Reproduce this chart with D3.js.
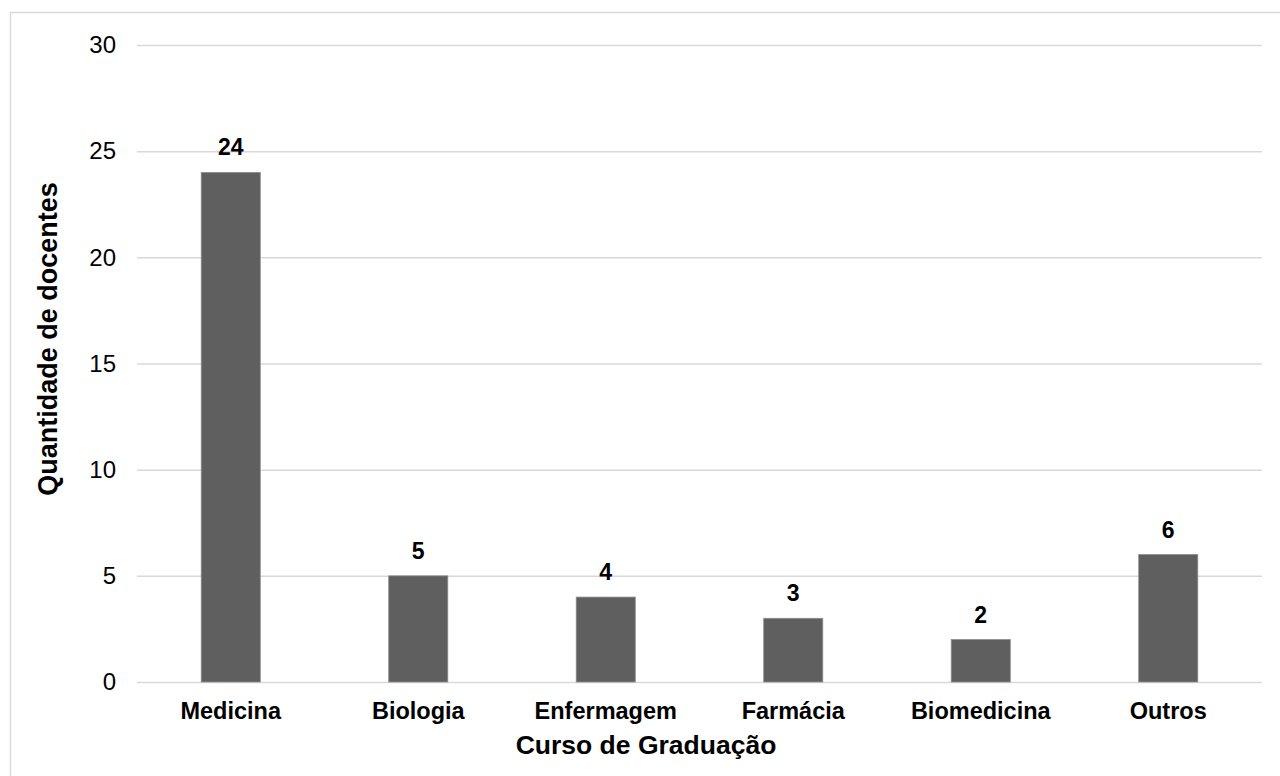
<!DOCTYPE html>
<html>
<head>
<meta charset="utf-8">
<script src="https://cdn.jsdelivr.net/npm/d3@7"></script>
<style>
  html, body { margin: 0; padding: 0; background: #fff; }
  svg { display: block; font-family: "Liberation Sans", Arial, sans-serif; }
</style>
</head>
<body>
<svg id="chart" width="1280" height="776"></svg>
<script>
// Number of lecturers by undergraduate course
const categories = ["Medicina", "Biologia", "Enfermagem", "Farmácia", "Biomedicina", "Outros"];
const values = [24, 5, 4, 3, 2, 6];
const yTicks = [0, 5, 10, 15, 20, 25, 30];

const svg = d3.select("#chart");
const W = 1280, H = 776;
const plot = { left: 137, right: 1262, top: 45, bottom: 682 };

// outer frame
svg.append("rect")
  .attr("x", 10.5).attr("y", 12.5)
  .attr("width", W).attr("height", H)
  .attr("fill", "none").attr("stroke", "#d9d9d9").attr("stroke-width", 1.5);

const x = d3.scaleBand()
  .domain(categories)
  .range([plot.left, plot.right])
  .paddingInner(0.685)
  .paddingOuter(0.3425);

const y = d3.scaleLinear()
  .domain([0, 30])
  .range([plot.bottom, plot.top]);

// horizontal gridlines + tick labels
const yAxis = d3.axisLeft(y).tickValues(yTicks).tickSize(-(plot.right - plot.left)).tickPadding(21);
const gy = svg.append("g")
  .attr("transform", `translate(${plot.left},0)`)
  .call(yAxis);
gy.select(".domain").remove();
gy.selectAll(".tick line").attr("stroke", "#d9d9d9").attr("stroke-width", 1.5);
gy.selectAll(".tick text")
  .attr("fill", "#000")
  .style("font-size", "24px")
  .style("font-family", "'Liberation Sans', Arial, sans-serif");

// bars
svg.append("g").selectAll("rect")
  .data(categories)
  .join("rect")
  .attr("x", d => x(d))
  .attr("y", (d, i) => y(values[i]))
  .attr("width", x.bandwidth())
  .attr("height", (d, i) => y(0) - y(values[i]))
  .attr("fill", "#5f5f5f")
  .attr("stroke", "#8c8c8c")
  .attr("stroke-width", 0.8);

// value labels
svg.append("g").selectAll("text")
  .data(categories)
  .join("text")
  .attr("x", d => x(d) + x.bandwidth() / 2)
  .attr("y", (d, i) => y(values[i]) - 17)
  .attr("text-anchor", "middle")
  .style("font-size", "23px")
  .style("font-weight", "bold")
  .attr("fill", "#000")
  .text((d, i) => values[i]);

// category labels
const xAxis = d3.axisBottom(x).tickSize(0).tickPadding(0);
const gx = svg.append("g")
  .attr("transform", `translate(0,${plot.bottom})`)
  .call(xAxis);
gx.select(".domain").remove();
gx.selectAll(".tick text")
  .attr("y", 0)
  .attr("dy", 0)
  .attr("transform", "translate(0,37)")
  .attr("fill", "#000")
  .style("font-size", "23.5px")
  .style("font-weight", "bold")
  .style("font-family", "'Liberation Sans', Arial, sans-serif");

// axis titles
svg.append("text")
  .attr("x", 646)
  .attr("y", 754)
  .attr("text-anchor", "middle")
  .style("font-size", "26.5px")
  .style("font-weight", "bold")
  .text("Curso de Graduação");

svg.append("text")
  .attr("transform", "translate(57,339) rotate(-90)")
  .attr("text-anchor", "middle")
  .style("font-size", "27px")
  .style("font-weight", "bold")
  .text("Quantidade de docentes");
</script>
</body>
</html>
